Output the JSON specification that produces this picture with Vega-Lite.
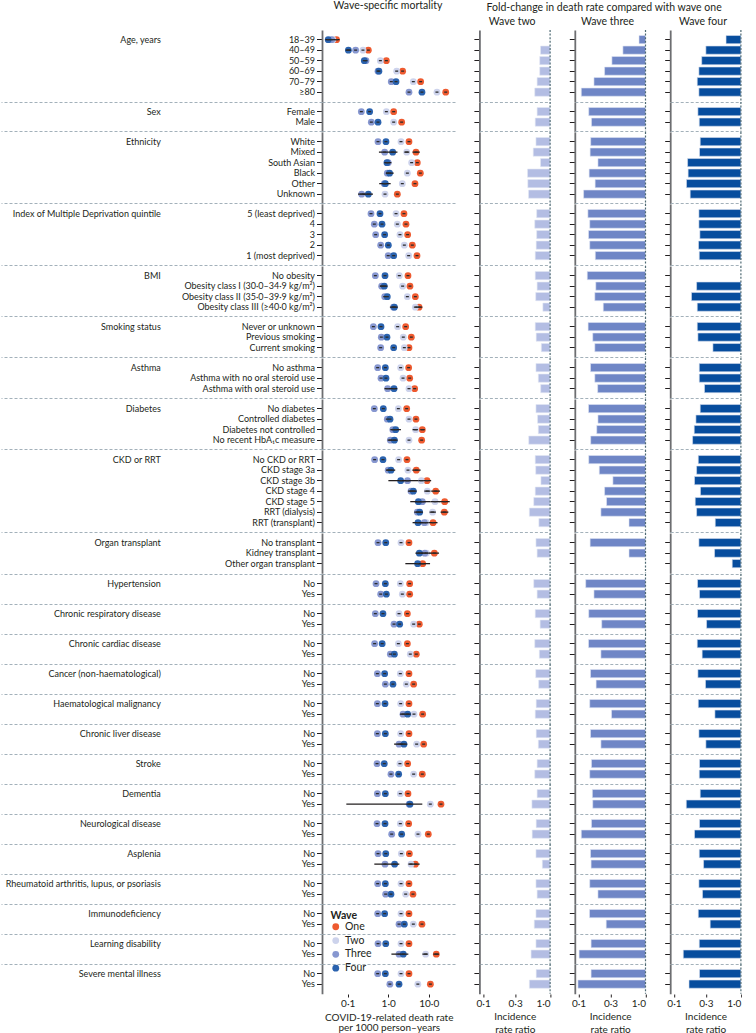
{
  "$schema": "https://vega.github.io/schema/vega-lite/v6.json",
  "padding": {"left": 0, "top": 1, "right": 0, "bottom": 0},
  "background": "white",
  "title": {"text": "Fold-change in death rate compared with wave one", "anchor": "end", "dx": -20, "offset": -12, "fontSize": 10.5, "fontWeight": "normal", "color": "#231f20"},
  "data": {"values": [
    {"g":"Age, years","k":"18–39","One":0.053,"Two":0.043,"Three":0.04,"Four":0.033,"r2":null,"r3":0.8,"r4":0.6,"l1":0.045,"h1":0.063,"l4":0.028,"h4":0.039},
    {"g":"Age, years","k":"40–49","One":0.323,"Two":0.238,"Three":0.157,"Four":0.104,"r2":0.72,"r3":0.46,"r4":0.3,"l4":0.089,"h4":0.121},
    {"g":"Age, years","k":"50–59","One":0.9,"Two":0.64,"Three":0.283,"Four":0.257,"r2":0.7,"r3":0.315,"r4":0.26},
    {"g":"Age, years","k":"60–69","One":2.27,"Two":1.62,"Three":0.56,"Four":0.59,"r2":0.7,"r3":0.245,"r4":0.236},
    {"g":"Age, years","k":"70–79","One":6.32,"Two":4.17,"Three":1.19,"Four":1.56,"r2":0.64,"r3":0.17,"r4":0.223},
    {"g":"Age, years","k":"≥80","One":26.3,"Two":16,"Three":3.26,"Four":6.82,"r2":0.59,"r3":0.11,"r4":0.236},
    {"g":"Sex","k":"Female","One":1.365,"Two":0.9,"Three":0.217,"Four":0.348,"r2":0.64,"r3":0.142,"r4":0.228},
    {"g":"Sex","k":"Male","One":2.15,"Two":1.365,"Three":0.383,"Four":0.56,"r2":0.6,"r3":0.156,"r4":0.239},
    {"g":"Ethnicity","k":"White","One":3.26,"Two":2.07,"Three":0.56,"Four":0.88,"r2":0.615,"r3":0.152,"r4":0.247},
    {"g":"Ethnicity","k":"Mixed","One":4.85,"Two":2.86,"Three":0.817,"Four":1.29,"r2":0.56,"r3":0.149,"r4":0.241,"l1":4.0,"h1":6.0,"l2":2.5,"h2":3.3,"l4":0.59,"h4":1.69},
    {"g":"Ethnicity","k":"South Asian","One":5.23,"Two":3.79,"Three":1.0,"Four":0.93,"r2":0.72,"r3":0.195,"r4":0.16,"l4":0.8,"h4":1.2},
    {"g":"Ethnicity","k":"Black","One":6.21,"Two":2.97,"Three":0.95,"Four":1.08,"r2":0.46,"r3":0.144,"r4":0.163,"l4":0.88,"h4":1.365},
    {"g":"Ethnicity","k":"Other","One":4.58,"Two":2.23,"Three":0.8,"Four":0.85,"r2":0.465,"r3":0.177,"r4":0.154,"l4":0.6,"h4":1.15},
    {"g":"Ethnicity","k":"Unknown","One":1.68,"Two":0.834,"Three":0.221,"Four":0.323,"r2":0.477,"r3":0.119,"r4":0.175,"l3":0.18,"h3":0.27,"l4":0.23,"h4":0.42},
    {"g":"Index of Multiple Deprivation quintile","k":"5 (least deprived)","One":2.45,"Two":1.56,"Three":0.376,"Four":0.627,"r2":0.63,"r3":0.138,"r4":0.236},
    {"g":"Index of Multiple Deprivation quintile","k":"4","One":2.75,"Two":1.68,"Three":0.454,"Four":0.703,"r2":0.59,"r3":0.147,"r4":0.236},
    {"g":"Index of Multiple Deprivation quintile","k":"3","One":3.02,"Two":1.95,"Three":0.49,"Four":0.817,"r2":0.63,"r3":0.141,"r4":0.244},
    {"g":"Index of Multiple Deprivation quintile","k":"2","One":3.94,"Two":2.5,"Three":0.652,"Four":1.007,"r2":0.62,"r3":0.147,"r4":0.233},
    {"g":"Index of Multiple Deprivation quintile","k":"1 (most deprived)","One":5.14,"Two":3.2,"Three":1.0,"Four":1.365,"r2":0.6,"r3":0.178,"r4":0.239},
    {"g":"BMI","k":"No obesity","One":3.08,"Two":1.88,"Three":0.481,"Four":0.834,"r2":0.6,"r3":0.135,"r4":null},
    {"g":"BMI","k":"Obesity class I (30·0–34·9 kg/m²)","One":3.45,"Two":2.27,"Three":0.689,"Four":0.8,"r2":0.64,"r3":0.181,"r4":0.218,"l4":0.62,"h4":0.96},
    {"g":"BMI","k":"Obesity class II (35·0–39·9 kg/m²)","One":4.68,"Two":2.97,"Three":0.82,"Four":0.95,"r2":0.61,"r3":0.175,"r4":0.183},
    {"g":"BMI","k":"Obesity class III (≥40·0 kg/m²)","One":5.76,"Two":4.68,"Three":1.35,"Four":1.42,"r2":0.78,"r3":0.234,"r4":0.223,"l1":4.68,"h1":6.95,"l4":1.1,"h4":1.72},
    {"g":"Smoking status","k":"Never or unknown","One":2.7,"Two":1.71,"Three":0.43,"Four":0.664,"r2":0.6,"r3":0.139,"r4":0.223},
    {"g":"Smoking status","k":"Previous smoking","One":3.72,"Two":2.36,"Three":0.676,"Four":0.933,"r2":0.62,"r3":0.163,"r4":0.228},
    {"g":"Smoking status","k":"Current smoking","One":3.26,"Two":2.5,"Three":0.652,"Four":1.365,"r2":0.74,"r3":0.175,"r4":0.382},
    {"g":"Asthma","k":"No asthma","One":3.2,"Two":2.03,"Three":0.55,"Four":0.85,"r2":0.615,"r3":0.151,"r4":0.239},
    {"g":"Asthma","k":"Asthma with no oral steroid use","One":3.39,"Two":2.32,"Three":0.664,"Four":0.88,"r2":0.667,"r3":0.175,"r4":0.239},
    {"g":"Asthma","k":"Asthma with oral steroid use","One":4.5,"Two":3.26,"Three":0.968,"Four":1.39,"r2":0.724,"r3":0.193,"r4":0.286,"l3":0.81,"h3":1.15,"l4":1.05,"h4":1.68},
    {"g":"Diabetes","k":"No diabetes","One":2.86,"Two":1.78,"Three":0.454,"Four":0.757,"r2":0.615,"r3":0.141,"r4":0.247},
    {"g":"Diabetes","k":"Controlled diabetes","One":4.85,"Two":3.26,"Three":0.95,"Four":1.11,"r2":0.65,"r3":0.195,"r4":0.213},
    {"g":"Diabetes","k":"Diabetes not controlled","One":6.95,"Two":4.76,"Three":1.3,"Four":1.53,"r2":0.667,"r3":0.187,"r4":0.201,"l1":6.2,"h1":8.0,"l2":4.0,"h2":5.4,"l4":1.13,"h4":2.06},
    {"g":"Diabetes","k":"No recent HbA₁c measure","One":6.7,"Two":3.26,"Three":1.13,"Four":1.42,"r2":0.48,"r3":0.152,"r4":0.19,"l4":0.97,"h4":1.7},
    {"g":"CKD or RRT","k":"No CKD or RRT","One":2.91,"Two":1.81,"Three":0.462,"Four":0.743,"r2":0.6,"r3":0.142,"r4":0.231},
    {"g":"CKD or RRT","k":"CKD stage 3a","One":4.94,"Two":3.08,"Three":1.0,"Four":1.17,"r2":0.61,"r3":0.204,"r4":0.218,"l1":3.94,"h1":6.32,"l4":0.88,"h4":1.49},
    {"g":"CKD or RRT","k":"CKD stage 3b","One":9.08,"Two":6.58,"Three":3.0,"Four":2.03,"r2":0.73,"r3":0.326,"r4":0.203,"l1":7.5,"h1":11.5,"l2":5.6,"h2":7.6,"l3":2.2,"h3":5.6,"l4":1.01,"h4":3.5},
    {"g":"CKD or RRT","k":"CKD stage 4","One":14.9,"Two":9.25,"Three":3.65,"Four":4.17,"r2":0.6,"r3":0.245,"r4":0.249,"l1":11.5,"h1":19,"l2":7.8,"h2":11,"l4":3.08,"h4":5.04},
    {"g":"CKD or RRT","k":"CKD stage 5","One":24.8,"Two":14.3,"Three":6.95,"Four":5.55,"r2":0.57,"r3":0.262,"r4":0.208,"l1":18,"h1":33,"l2":11,"h2":18.5,"l3":4.5,"h3":11,"l4":3.5,"h4":8.5},
    {"g":"CKD or RRT","k":"RRT (dialysis)","One":24.3,"Two":12.5,"Three":5.25,"Four":5.98,"r2":0.49,"r3":0.216,"r4":0.218,"l1":19.7,"h1":30.6,"l2":10.5,"h2":15,"l4":4.4,"h4":7.2},
    {"g":"CKD or RRT","k":"RRT (transplant)","One":12.8,"Two":8.7,"Three":7.8,"Four":5.44,"r2":0.68,"r3":0.567,"r4":0.414,"l1":10,"h1":16.5,"l3":6.0,"h3":10,"l4":4.0,"h4":7.3},
    {"g":"Organ transplant","k":"No transplant","One":3.26,"Two":2.07,"Three":0.56,"Four":0.87,"r2":0.615,"r3":0.149,"r4":0.236},
    {"g":"Organ transplant","k":"Kidney transplant","One":13.8,"Two":8.8,"Three":8.0,"Four":5.87,"r2":0.64,"r3":0.567,"r4":0.404,"l1":10.5,"h1":18,"l3":6.5,"h3":11,"l4":4.7,"h4":7.3},
    {"g":"Organ transplant","k":"Other organ transplant","One":7.09,"Two":null,"Three":null,"Four":5.33,"r2":null,"r3":null,"r4":0.742,"l1":5.5,"h1":10.8,"l4":2.65,"h4":8.5},
    {"g":"Hypertension","k":"No","One":3.39,"Two":1.99,"Three":0.5,"Four":0.85,"r2":0.57,"r3":0.128,"r4":0.225},
    {"g":"Hypertension","k":"Yes","One":3.39,"Two":2.23,"Three":0.652,"Four":0.9,"r2":0.64,"r3":0.17,"r4":0.241},
    {"g":"Chronic respiratory disease","k":"No","One":2.97,"Two":1.85,"Three":0.481,"Four":0.743,"r2":0.6,"r3":0.142,"r4":0.225},
    {"g":"Chronic respiratory disease","k":"Yes","One":5.86,"Two":4.25,"Three":1.39,"Four":1.92,"r2":0.71,"r3":0.222,"r4":0.307},
    {"g":"Chronic cardiac disease","k":"No","One":2.97,"Two":1.78,"Three":0.462,"Four":0.71,"r2":0.59,"r3":0.141,"r4":0.223},
    {"g":"Chronic cardiac disease","k":"Yes","One":4.94,"Two":3.51,"Three":1.13,"Four":1.42,"r2":0.69,"r3":0.216,"r4":0.264},
    {"g":"Cancer (non-haematological)","k":"No","One":3.26,"Two":1.99,"Three":0.54,"Four":0.817,"r2":0.61,"r3":0.151,"r4":0.228},
    {"g":"Cancer (non-haematological)","k":"Yes","One":4.25,"Two":2.8,"Three":0.85,"Four":1.31,"r2":0.675,"r3":0.183,"r4":0.296},
    {"g":"Haematological malignancy","k":"No","One":3.26,"Two":2.03,"Three":0.54,"Four":0.834,"r2":0.62,"r3":0.147,"r4":0.231},
    {"g":"Haematological malignancy","k":"Yes","One":7.09,"Two":4.33,"Three":2.32,"Four":3.02,"r2":0.6,"r3":0.311,"r4":0.409,"l4":1.95,"h4":3.6},
    {"g":"Chronic liver disease","k":"No","One":3.26,"Two":2.03,"Three":0.54,"Four":0.85,"r2":0.62,"r3":0.151,"r4":0.236},
    {"g":"Chronic liver disease","k":"Yes","One":7.51,"Two":5.04,"Three":1.85,"Four":2.45,"r2":0.667,"r3":0.216,"r4":0.3,"l3":1.4,"h3":2.3,"l4":1.9,"h4":2.95},
    {"g":"Stroke","k":"No","One":3.02,"Two":1.95,"Three":0.53,"Four":0.8,"r2":0.64,"r3":0.156,"r4":0.241},
    {"g":"Stroke","k":"Yes","One":6.95,"Two":4.25,"Three":1.17,"Four":1.81,"r2":0.59,"r3":0.147,"r4":0.239},
    {"g":"Dementia","k":"No","One":3.08,"Two":1.99,"Three":0.54,"Four":0.85,"r2":0.64,"r3":0.161,"r4":0.247},
    {"g":"Dementia","k":"Yes","One":20.1,"Two":10.96,"Three":3.3,"Four":3.45,"r2":0.535,"r3":0.163,"r4":0.153,"l4":0.0925,"h4":6.95},
    {"g":"Neurological disease","k":"No","One":3.2,"Two":1.99,"Three":0.53,"Four":0.834,"r2":0.62,"r3":0.156,"r4":0.241},
    {"g":"Neurological disease","k":"Yes","One":9.77,"Two":5.44,"Three":1.22,"Four":2.15,"r2":0.54,"r3":0.11,"r4":0.203},
    {"g":"Asplenia","k":"No","One":3.33,"Two":2.11,"Three":0.56,"Four":0.87,"r2":0.615,"r3":0.151,"r4":0.239},
    {"g":"Asplenia","k":"Yes","One":4.68,"Two":3.66,"Three":0.834,"Four":1.44,"r2":0.765,"r3":0.154,"r4":0.277,"l1":3.14,"h1":5.98,"l4":0.454,"h4":1.88},
    {"g":"Rheumatoid arthritis, lupus, or psoriasis","k":"No","One":3.26,"Two":2.07,"Three":0.55,"Four":0.85,"r2":0.615,"r3":0.147,"r4":0.236},
    {"g":"Rheumatoid arthritis, lupus, or psoriasis","k":"Yes","One":4.09,"Two":2.7,"Three":0.865,"Four":1.17,"r2":0.64,"r3":0.195,"r4":0.267},
    {"g":"Immunodeficiency","k":"No","One":3.26,"Two":2.07,"Three":0.55,"Four":0.817,"r2":0.615,"r3":0.146,"r4":0.231},
    {"g":"Immunodeficiency","k":"Yes","One":6.82,"Two":4.17,"Three":1.85,"Four":2.5,"r2":0.58,"r3":0.259,"r4":0.348},
    {"g":"Learning disability","k":"No","One":3.26,"Two":2.07,"Three":0.56,"Four":0.87,"r2":0.615,"r3":0.154,"r4":0.239},
    {"g":"Learning disability","k":"Yes","One":15.4,"Two":8.41,"Three":1.85,"Four":2.36,"r2":0.52,"r3":0.102,"r4":0.138,"l1":13,"h1":18,"l2":7.0,"h2":9.5,"l4":1.2,"h4":3.14},
    {"g":"Severe mental illness","k":"No","One":3.26,"Two":2.07,"Three":0.55,"Four":0.85,"r2":0.62,"r3":0.154,"r4":0.241},
    {"g":"Severe mental illness","k":"Yes","One":11,"Two":5.4,"Three":1.1,"Four":1.85,"r2":0.49,"r3":0.098,"r4":0.168}
  ]},
  "transform": [
    {"window": [{"op": "row_number", "as": "idx"}]},
    {"joinaggregate": [{"op": "min", "field": "idx", "as": "gi"}], "groupby": ["g"]},
    {"calculate": "(datum.idx < 10 ? '0' : '') + datum.idx + '|' + datum.g + '|' + datum.k", "as": "key"}
  ],
  "spacing": 17.4,
  "hconcat": [
    {
      "title": {"text": "Wave-specific mortality", "subtitle": " ", "anchor": "middle", "frame": "bounds", "dx": 160},
      "facet": {"row": {"field": "gi", "type": "ordinal", "title": null, "header": {"labels": false, "title": null}}},
      "spacing": {"row": 0},
      "bounds": "flush",
      "resolve": {"scale": {"y": "independent"}},
      "spec": {
        "width": 133.5,
        "height": {"step": 10.5},
        "resolve": {"axis": {"y": "independent"}},
        "layer": [
          {
            "transform": [{"fold": ["One", "Two", "Three", "Four"], "as": ["wave", "v"]}, {"filter": "datum.v != null"}],
            "mark": {"type": "point", "filled": true, "size": 46, "opacity": 1, "strokeWidth": 0},
            "encoding": {
              "y": {"field": "key", "type": "nominal", "scale": {"type": "band", "paddingInner": 0, "paddingOuter": 0.417},
                "axis": {"orient": "left", "title": null, "domain": true, "domainColor": "#6d6e71", "domainWidth": 1.8, "ticks": true, "tickSize": 5.5, "tickColor": "#231f20", "tickWidth": 1, "labels": true, "labelExpr": "split(datum.value, '|')[2]", "labelFontSize": 9, "labelPadding": 2, "labelLimit": 300, "grid": false}},
              "x": {"field": "v", "type": "quantitative", "scale": {"type": "log", "domain": [0.02319, 45.88], "nice": false},
                "axis": {"orient": "bottom", "values": [0.1, 1, 10], "labelExpr": "replace(format(datum.value, '.1f'), '.', '·')", "title": ["COVID-19-related death rate", "per 1000 person–years"], "titleFontSize": 10, "titleLineHeight": 10, "titlePadding": 4, "domain": false, "ticks": true, "tickSize": 3, "tickColor": "#231f20", "labelFontSize": 10, "labelPadding": 1, "grid": false, "labelOverlap": false}},
              "color": {"field": "wave", "type": "nominal", "scale": {"domain": ["One", "Two", "Three", "Four"], "range": ["#ee5a2f", "#cdd3ec", "#8797d0", "#2a62ae"]},
                "legend": {"title": "Wave", "orient": "none", "legendX": 8.5, "legendY": 881, "titleFontWeight": "bold", "titleFontSize": 10.5, "labelFontSize": 10.5, "symbolType": "circle", "symbolSize": 46, "symbolStrokeWidth": 0, "rowPadding": 2.8, "titlePadding": 0}}
            }
          },
          {
            "transform": [{"filter": "datum.l1 != null"}],
            "mark": {"type": "rule", "color": "#231f20", "strokeWidth": 1.3},
            "encoding": {"y": {"field": "key", "type": "nominal", "scale": {"type": "band"}, "axis": null}, "x": {"field": "l1", "type": "quantitative"}, "x2": {"field": "h1"}}
          },
          {
            "transform": [{"filter": "datum.l2 != null"}],
            "mark": {"type": "rule", "color": "#231f20", "strokeWidth": 1.3},
            "encoding": {"y": {"field": "key", "type": "nominal", "scale": {"type": "band"}, "axis": null}, "x": {"field": "l2", "type": "quantitative"}, "x2": {"field": "h2"}}
          },
          {
            "transform": [{"filter": "datum.l3 != null"}],
            "mark": {"type": "rule", "color": "#231f20", "strokeWidth": 1.3},
            "encoding": {"y": {"field": "key", "type": "nominal", "scale": {"type": "band"}, "axis": null}, "x": {"field": "l3", "type": "quantitative"}, "x2": {"field": "h3"}}
          },
          {
            "transform": [{"filter": "datum.l4 != null"}],
            "mark": {"type": "rule", "color": "#231f20", "strokeWidth": 1.3},
            "encoding": {"y": {"field": "key", "type": "nominal", "scale": {"type": "band"}, "axis": null}, "x": {"field": "l4", "type": "quantitative"}, "x2": {"field": "h4"}}
          },
          {
            "transform": [{"fold": ["One", "Two", "Three", "Four"], "as": ["wave", "v"]}, {"filter": "datum.v != null"}],
            "mark": {"type": "point", "shape": "stroke", "size": 9, "strokeWidth": 1.3, "color": "#2b2b2b", "filled": false, "opacity": 1},
            "encoding": {
              "y": {"field": "key", "type": "nominal", "scale": {"type": "band"},
                "axis": {"orient": "left", "title": null, "labels": false, "domain": false, "ticks": true, "tickSize": 321, "tickColor": "#a3b1ba", "tickDash": [3, 2], "tickWidth": 1,
                  "tickOpacity": {"condition": {"test": "datum.index == 0 && slice(datum.value, 0, 2) != '01'", "value": 1}, "value": 0},
                  "grid": true, "gridColor": "#a3b1ba", "gridDash": [3, 2], "gridWidth": 1,
                  "gridOpacity": {"condition": {"test": "datum.index == 0 && slice(datum.value, 0, 2) != '01'", "value": 1}, "value": 0},
                  "bandPosition": -0.417}},
              "x": {"field": "v", "type": "quantitative"}
            }
          },
          {
            "mark": {"type": "text", "text": ""},
            "encoding": {
              "y": {"field": "key", "type": "nominal", "scale": {"type": "band"},
                "axis": {"orient": "left", "title": null, "domain": false, "ticks": false, "tickSize": 0, "labels": true, "labelExpr": "datum.index == 0 ? split(datum.value, '|')[1] : ''", "labelPadding": 161.7, "labelAlign": "right", "labelFontSize": 9, "labelLimit": 400, "grid": false}}
            }
          }
        ]
      }
    },
    {
      "title": {"text": " ", "subtitle": "Wave two", "anchor": "middle", "frame": "bounds"},
      "facet": {"row": {"field": "gi", "type": "ordinal", "title": null, "header": {"labels": false, "title": null}}},
      "spacing": {"row": 0},
      "bounds": "flush",
      "resolve": {"scale": {"y": "independent"}},
      "spec": {
        "width": 70.7,
        "height": {"step": 10.5},
        "resolve": {"axis": {"y": "independent"}},
        "layer": [
          {
            "transform": [{"filter": "datum.r2 != null"}],
            "mark": {"type": "bar", "height": {"band": 0.78}, "color": "#b3bde3", "stroke": "#e3e7f4", "strokeWidth": 0.6},
            "encoding": {
              "y": {"field": "key", "type": "nominal", "scale": {"type": "band", "paddingInner": 0, "paddingOuter": 0.417},
                "axis": {"orient": "left", "title": null, "domain": true, "domainColor": "#6d6e71", "domainWidth": 1.8, "ticks": true, "tickSize": 5.5, "tickColor": "#231f20", "tickWidth": 1, "labels": false, "grid": false}},
              "x": {"field": "r2", "type": "quantitative", "scale": {"type": "log", "domain": [0.088, 1], "nice": false},
                "axis": {"values": [0.1, 0.3, 1], "labelExpr": "replace(format(datum.value, '.1f'), '.', '·')", "title": ["Incidence", "rate ratio"], "titleFontSize": 10, "titleLineHeight": 13, "titlePadding": 3, "domain": false, "ticks": true, "tickSize": 3, "tickColor": "#231f20", "labelFontSize": 10, "labelPadding": 1, "grid": false, "labelOverlap": false}},
              "x2": {"datum": 1}
            }
          },
          {
            "mark": {"type": "text", "text": ""},
            "encoding": {
              "y": {"field": "key", "type": "nominal", "scale": {"type": "band"},
                "axis": {"orient": "left", "title": null, "labels": false, "domain": false, "ticks": false, "grid": true, "gridColor": "#a3b1ba", "gridDash": [3, 2], "gridWidth": 1,
                  "gridOpacity": {"condition": {"test": "datum.index == 0 && slice(datum.value, 0, 2) != '01'", "value": 1}, "value": 0},
                  "bandPosition": -0.417}}
            }
          },
          {
            "transform": [{"filter": "datum.idx == datum.gi"}],
            "mark": {"type": "rule", "color": "#4e6a73", "strokeDash": [2, 1.6], "strokeWidth": 1.2},
            "encoding": {"x": {"datum": 1}}
          }
        ]
      }
    },
    {
      "title": {"text": " ", "subtitle": "Wave three", "anchor": "middle", "frame": "bounds"},
      "facet": {"row": {"field": "gi", "type": "ordinal", "title": null, "header": {"labels": false, "title": null}}},
      "spacing": {"row": 0},
      "bounds": "flush",
      "resolve": {"scale": {"y": "independent"}},
      "spec": {
        "width": 70.7,
        "height": {"step": 10.5},
        "resolve": {"axis": {"y": "independent"}},
        "layer": [
          {
            "transform": [{"filter": "datum.r3 != null"}],
            "mark": {"type": "bar", "height": {"band": 0.78}, "color": "#6f86c6", "stroke": "#dfe4f3", "strokeWidth": 0.6},
            "encoding": {
              "y": {"field": "key", "type": "nominal", "scale": {"type": "band", "paddingInner": 0, "paddingOuter": 0.417},
                "axis": {"orient": "left", "title": null, "domain": true, "domainColor": "#6d6e71", "domainWidth": 1.8, "ticks": true, "tickSize": 5.5, "tickColor": "#231f20", "tickWidth": 1, "labels": false, "grid": false}},
              "x": {"field": "r3", "type": "quantitative", "scale": {"type": "log", "domain": [0.088, 1], "nice": false},
                "axis": {"values": [0.1, 0.3, 1], "labelExpr": "replace(format(datum.value, '.1f'), '.', '·')", "title": ["Incidence", "rate ratio"], "titleFontSize": 10, "titleLineHeight": 13, "titlePadding": 3, "domain": false, "ticks": true, "tickSize": 3, "tickColor": "#231f20", "labelFontSize": 10, "labelPadding": 1, "grid": false, "labelOverlap": false}},
              "x2": {"datum": 1}
            }
          },
          {
            "mark": {"type": "text", "text": ""},
            "encoding": {
              "y": {"field": "key", "type": "nominal", "scale": {"type": "band"},
                "axis": {"orient": "left", "title": null, "labels": false, "domain": false, "ticks": false, "grid": true, "gridColor": "#a3b1ba", "gridDash": [3, 2], "gridWidth": 1,
                  "gridOpacity": {"condition": {"test": "datum.index == 0 && slice(datum.value, 0, 2) != '01'", "value": 1}, "value": 0},
                  "bandPosition": -0.417}}
            }
          },
          {
            "transform": [{"filter": "datum.idx == datum.gi"}],
            "mark": {"type": "rule", "color": "#4e6a73", "strokeDash": [2, 1.6], "strokeWidth": 1.2},
            "encoding": {"x": {"datum": 1}}
          }
        ]
      }
    },
    {
      "title": {"text": " ", "subtitle": "Wave four", "anchor": "middle", "frame": "bounds"},
      "facet": {"row": {"field": "gi", "type": "ordinal", "title": null, "header": {"labels": false, "title": null}}},
      "spacing": {"row": 0},
      "bounds": "flush",
      "resolve": {"scale": {"y": "independent"}},
      "spec": {
        "width": 70.7,
        "height": {"step": 10.5},
        "resolve": {"axis": {"y": "independent"}},
        "layer": [
          {
            "transform": [{"filter": "datum.r4 != null"}],
            "mark": {"type": "bar", "height": {"band": 0.78}, "color": "#074d9e", "stroke": "#d5ddee", "strokeWidth": 0.6},
            "encoding": {
              "y": {"field": "key", "type": "nominal", "scale": {"type": "band", "paddingInner": 0, "paddingOuter": 0.417},
                "axis": {"orient": "left", "title": null, "domain": true, "domainColor": "#6d6e71", "domainWidth": 1.8, "ticks": true, "tickSize": 5.5, "tickColor": "#231f20", "tickWidth": 1, "labels": false, "grid": false}},
              "x": {"field": "r4", "type": "quantitative", "scale": {"type": "log", "domain": [0.088, 1], "nice": false},
                "axis": {"values": [0.1, 0.3, 1], "labelExpr": "replace(format(datum.value, '.1f'), '.', '·')", "title": ["Incidence", "rate ratio"], "titleFontSize": 10, "titleLineHeight": 13, "titlePadding": 3, "domain": false, "ticks": true, "tickSize": 3, "tickColor": "#231f20", "labelFontSize": 10, "labelPadding": 1, "grid": false, "labelOverlap": false}},
              "x2": {"datum": 1}
            }
          },
          {
            "mark": {"type": "text", "text": ""},
            "encoding": {
              "y": {"field": "key", "type": "nominal", "scale": {"type": "band"},
                "axis": {"orient": "left", "title": null, "labels": false, "domain": false, "ticks": false, "grid": true, "gridColor": "#a3b1ba", "gridDash": [3, 2], "gridWidth": 1,
                  "gridOpacity": {"condition": {"test": "datum.index == 0 && slice(datum.value, 0, 2) != '01'", "value": 1}, "value": 0},
                  "bandPosition": -0.417}}
            }
          },
          {
            "transform": [{"filter": "datum.idx == datum.gi"}],
            "mark": {"type": "rule", "color": "#4e6a73", "strokeDash": [2, 1.6], "strokeWidth": 1.2},
            "encoding": {"x": {"datum": 1}}
          }
        ]
      }
    }
  ],
  "config": {
    "font": "Lato",
    "view": {"stroke": null},
    "axis": {"labelFont": "Lato", "titleFont": "Lato", "labelColor": "#231f20", "titleColor": "#231f20", "titleFontWeight": "normal"},
    "title": {"font": "Lato", "fontWeight": "normal", "fontSize": 10.5, "color": "#231f20", "subtitleFont": "Lato", "subtitleFontSize": 10.5, "subtitleColor": "#231f20", "subtitlePadding": 5, "offset": 2},
    "legend": {"labelFont": "Lato", "titleFont": "Lato", "labelColor": "#231f20", "titleColor": "#231f20"}
  }
}
